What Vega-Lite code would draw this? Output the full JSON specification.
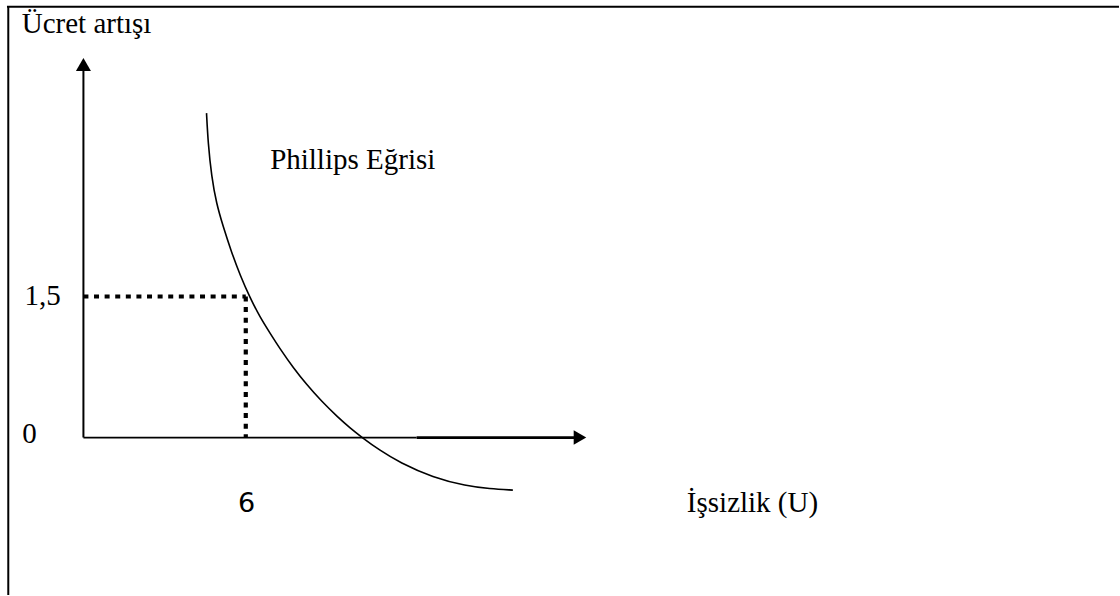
{
  "$schema": "https://vega.github.io/schema/vega-lite/v6.json",
  "width": 1120,
  "height": 596,
  "autosize": {"type": "fit", "contains": "padding"},
  "padding": 0,
  "background": "white",
  "config": {"view": {"stroke": null}},
  "datasets": {
    "segments": [
      {"part": "frame", "u": -2.825, "u2": 38.27, "w": 4.582, "w2": 4.582},
      {"part": "frame", "u": -2.777, "u2": -2.777, "w": -1.674, "w2": 4.589},
      {"part": "yaxis", "u": 0, "u2": 0, "w": 0, "w2": 3.92},
      {"part": "xaxis", "u": 0, "u2": 12.314, "w": 0, "w2": 0},
      {"part": "xaxis2", "u": 12.314, "u2": 18.2, "w": 0, "w2": 0},
      {"part": "guide", "u": 0, "u2": 6, "w": 1.5, "w2": 1.5},
      {"part": "guide", "u": 6, "u2": 6, "w": 1.5, "w2": 0}
    ],
    "curve": [
      {"u": 4.549, "w": 3.45},
      {"u": 4.608, "w": 3.132},
      {"u": 4.734, "w": 2.777},
      {"u": 4.918, "w": 2.485},
      {"u": 5.162, "w": 2.246},
      {"u": 5.465, "w": 1.977},
      {"u": 5.797, "w": 1.723},
      {"u": 6.148, "w": 1.492},
      {"u": 6.517, "w": 1.285},
      {"u": 6.886, "w": 1.115},
      {"u": 7.318, "w": 0.921},
      {"u": 7.747, "w": 0.746},
      {"u": 8.241, "w": 0.566},
      {"u": 8.795, "w": 0.387},
      {"u": 9.408, "w": 0.215},
      {"u": 9.84, "w": 0.106},
      {"u": 10.302, "w": 0},
      {"u": 10.948, "w": -0.135},
      {"u": 11.686, "w": -0.265},
      {"u": 12.916, "w": -0.425},
      {"u": 14.149, "w": -0.514},
      {"u": 15.01, "w": -0.544},
      {"u": 15.87, "w": -0.559}
    ],
    "arrows": [
      {"dir": "up", "u": 0, "w": 3.968},
      {"dir": "right", "u": 18.351, "w": 0}
    ],
    "labels": [
      {"label": "Ücret artışı", "u": -2.28, "w": 4.303, "kind": "serif"},
      {"label": "Phillips Eğrisi", "u": 6.9, "w": 2.859, "kind": "serif"},
      {"label": "1,5", "u": -2.18, "w": 1.415, "kind": "serif"},
      {"label": "0", "u": -2.26, "w": -0.061, "kind": "serif"},
      {"label": "İşsizlik (U)", "u": 22.3, "w": -0.796, "kind": "serif"},
      {"label": "6", "u": 6.03, "w": -0.796, "kind": "sans"}
    ]
  },
  "encoding": {
    "x": {"field": "u", "type": "quantitative", "scale": {"domain": [-3.083, 38.271], "zero": false, "nice": false}, "axis": null},
    "y": {"field": "w", "type": "quantitative", "scale": {"domain": [-1.674, 4.653], "zero": false, "nice": false}, "axis": null}
  },
  "layer": [
    {
      "data": {"name": "segments"},
      "transform": [{"filter": "datum.part === 'frame'"}],
      "mark": {"type": "rule", "color": "black", "strokeWidth": 2},
      "encoding": {"x2": {"field": "u2"}, "y2": {"field": "w2"}}
    },
    {
      "data": {"name": "segments"},
      "transform": [{"filter": "datum.part === 'yaxis'"}],
      "mark": {"type": "rule", "color": "black", "strokeWidth": 2},
      "encoding": {"x2": {"field": "u2"}, "y2": {"field": "w2"}}
    },
    {
      "data": {"name": "segments"},
      "transform": [{"filter": "datum.part === 'xaxis'"}],
      "mark": {"type": "rule", "color": "black", "strokeWidth": 1.8},
      "encoding": {"x2": {"field": "u2"}, "y2": {"field": "w2"}}
    },
    {
      "data": {"name": "segments"},
      "transform": [{"filter": "datum.part === 'xaxis2'"}],
      "mark": {"type": "rule", "color": "black", "strokeWidth": 2.8},
      "encoding": {"x2": {"field": "u2"}, "y2": {"field": "w2"}}
    },
    {
      "data": {"name": "segments"},
      "transform": [{"filter": "datum.part === 'guide'"}],
      "mark": {"type": "rule", "color": "black", "strokeWidth": 4.2, "strokeDash": [5, 5.6], "strokeCap": "butt"},
      "encoding": {"x2": {"field": "u2"}, "y2": {"field": "w2"}}
    },
    {
      "data": {"name": "curve"},
      "mark": {"type": "line", "color": "black", "strokeWidth": 1.6, "interpolate": "basis"},
      "encoding": {"order": {"field": "u", "type": "quantitative"}}
    },
    {
      "data": {"name": "arrows"},
      "transform": [{"filter": "datum.dir === 'up'"}],
      "mark": {"type": "point", "shape": "triangle-up", "filled": true, "color": "black", "opacity": 1, "size": 225}
    },
    {
      "data": {"name": "arrows"},
      "transform": [{"filter": "datum.dir === 'right'"}],
      "mark": {"type": "point", "shape": "triangle-right", "filled": true, "color": "black", "opacity": 1, "size": 210}
    },
    {
      "data": {"name": "labels"},
      "transform": [{"filter": "datum.kind === 'serif'"}],
      "mark": {"type": "text", "font": "Liberation Serif", "fontSize": 29, "align": "left", "baseline": "alphabetic", "color": "black"},
      "encoding": {"text": {"field": "label"}}
    },
    {
      "data": {"name": "labels"},
      "transform": [{"filter": "datum.kind === 'sans'"}],
      "mark": {"type": "text", "font": "DejaVu Sans", "fontSize": 27, "align": "center", "baseline": "alphabetic", "color": "black"},
      "encoding": {"text": {"field": "label"}}
    }
  ]
}
